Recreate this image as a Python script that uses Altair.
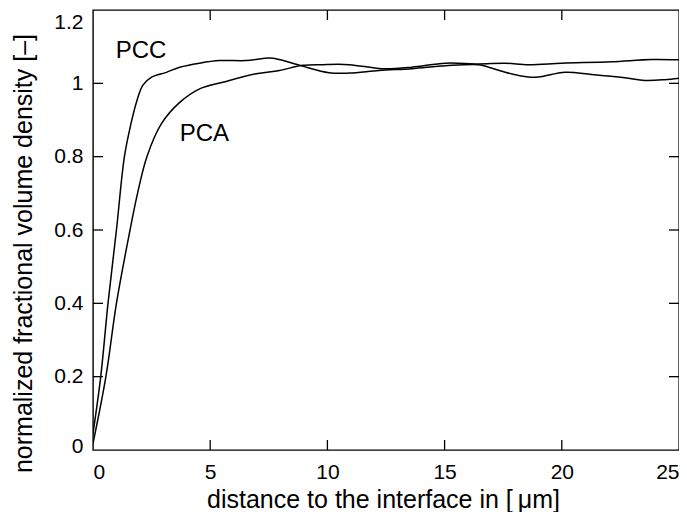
import altair as alt
import pandas as pd

# ---- data ----
pcc_x = [0.0, 0.33, 0.64, 1.00, 1.34, 1.62, 1.86, 2.13, 2.50, 3.13, 3.70, 4.55, 5.40, 6.53,
         7.53, 7.95, 8.93, 10.07, 10.93, 12.20, 13.6, 15.04, 16.45, 16.88, 17.59, 18.58,
         19.0, 20.14, 21.27, 22.69, 23.54, 24.39, 25.0]
pcc_y = [0.045, 0.20, 0.40, 0.60, 0.80, 0.89, 0.95, 0.995, 1.017, 1.03, 1.044, 1.055, 1.062, 1.062,
         1.069, 1.065, 1.047, 1.029, 1.028, 1.035, 1.040, 1.048, 1.051, 1.044, 1.030, 1.017,
         1.017, 1.030, 1.024, 1.015, 1.008, 1.010, 1.014]

pca_x = [0.0, 0.55, 1.00, 1.58, 1.90, 2.30, 2.92, 3.70, 4.55, 5.54, 6.96, 7.95,
         8.94, 9.79, 10.93, 12.33, 13.6, 15.04, 16.45, 17.59, 18.58, 20.0, 22.12, 23.82, 25.0]
pca_y = [0.018, 0.20, 0.40, 0.60, 0.70, 0.80, 0.89, 0.948, 0.985, 1.003, 1.026, 1.035,
         1.049, 1.051, 1.051, 1.040, 1.044, 1.055, 1.053, 1.055, 1.051, 1.055, 1.059, 1.065, 1.064]

curve_names = ["PCC", "PCA"]
curve_label_x = [2.05, 4.75]
curve_label_y = [1.087, 0.862]

x_label_values = [0, 5, 10, 15, 20, 25]
y_label_values = [0, 0.2, 0.4, 0.6, 0.8, 1, 1.2]
x_inner_ticks = [5, 10, 15, 20]
y_inner_ticks = [0.2, 0.4, 0.6, 0.8, 1.0]

x_title = "distance to the interface in [\u2009\u03bcm]"
y_title = "normalized fractional volume density [\u2013]"

# ---- tables ----
lines_df = pd.concat([
    pd.DataFrame({"x": pcc_x, "y": pcc_y, "series": "PCC"}),
    pd.DataFrame({"x": pca_x, "y": pca_y, "series": "PCA"}),
], ignore_index=True)
labels_df = pd.DataFrame({"x": curve_label_x, "y": curve_label_y, "name": curve_names})
xt_df = pd.DataFrame({"x": x_inner_ticks})
yt_df = pd.DataFrame({"y": y_inner_ticks})

W, H = 586, 440
FONT = "Liberation Sans"
TL = 10

xs = alt.Scale(domain=[0, 25], nice=False, zero=False)
ys = alt.Scale(domain=[0, 1.2], nice=False, zero=False)

x_axis = alt.Axis(values=x_label_values, title=x_title, labelFontSize=21, labelFont=FONT,
                  labelColor="black", labelBaseline="alphabetic", labelPadding=28,
                  ticks=False, tickSize=0, domain=False, grid=False,
                  titleFont=FONT, titleFontSize=25, titleFontWeight="normal", titleColor="black",
                  titleX=290, titleY=57, titleBaseline="alphabetic", titleAlign="center")
y_axis = alt.Axis(values=y_label_values, format="~g", title=y_title, labelFontSize=21,
                  labelFont=FONT, labelColor="black", labelPadding=10, labelBaseline="middle",
                  labelFlush=False,
                  labelOffset={"condition": [{"test": "datum.value >= 1.1", "value": 12},
                                             {"test": "datum.value <= 0.01", "value": -4}],
                               "value": 0},
                  ticks=False, tickSize=0, domain=False, grid=False,
                  titleFont=FONT, titleFontSize=25, titleFontWeight="normal", titleColor="black",
                  titleX=-62, titleY=243, titleBaseline="alphabetic", titleAlign="center",
                  titleAngle=270)

X = alt.X("x:Q", scale=xs, axis=x_axis)
Y = alt.Y("y:Q", scale=ys, axis=y_axis)

lines = alt.Chart(lines_df).mark_line(interpolate="catmull-rom", color="black",
                                      strokeWidth=1.5, clip=True).encode(
    x=X, y=Y, detail="series:N",
)

texts = alt.Chart(labels_df).mark_text(font=FONT, fontSize=24, color="black",
                                       align="center", baseline="middle").encode(
    x=X, y=Y, text="name:N",
)

tick_style = dict(color="black", strokeWidth=1.3)
bottom_ticks = alt.Chart(xt_df).mark_rule(**tick_style).encode(
    x=X, y=alt.value(H), y2=alt.value(H - TL))
top_ticks = alt.Chart(xt_df).mark_rule(**tick_style).encode(
    x=X, y=alt.value(0), y2=alt.value(TL))
left_ticks = alt.Chart(yt_df).mark_rule(**tick_style).encode(
    y=Y, x=alt.value(0), x2=alt.value(TL))
right_ticks = alt.Chart(yt_df).mark_rule(**tick_style).encode(
    y=Y, x=alt.value(W), x2=alt.value(W - TL))

chart = alt.layer(lines, texts, bottom_ticks, top_ticks, left_ticks, right_ticks).properties(
    width=W, height=H,
    background="white",
    autosize=alt.AutoSizeParams(type="none"),
    padding={"left": 85, "top": 2, "right": 0, "bottom": 62},
).configure_view(stroke="black", strokeWidth=1.4)

chart.save("out.html", embed_options={"renderer": "svg", "actions": False})
